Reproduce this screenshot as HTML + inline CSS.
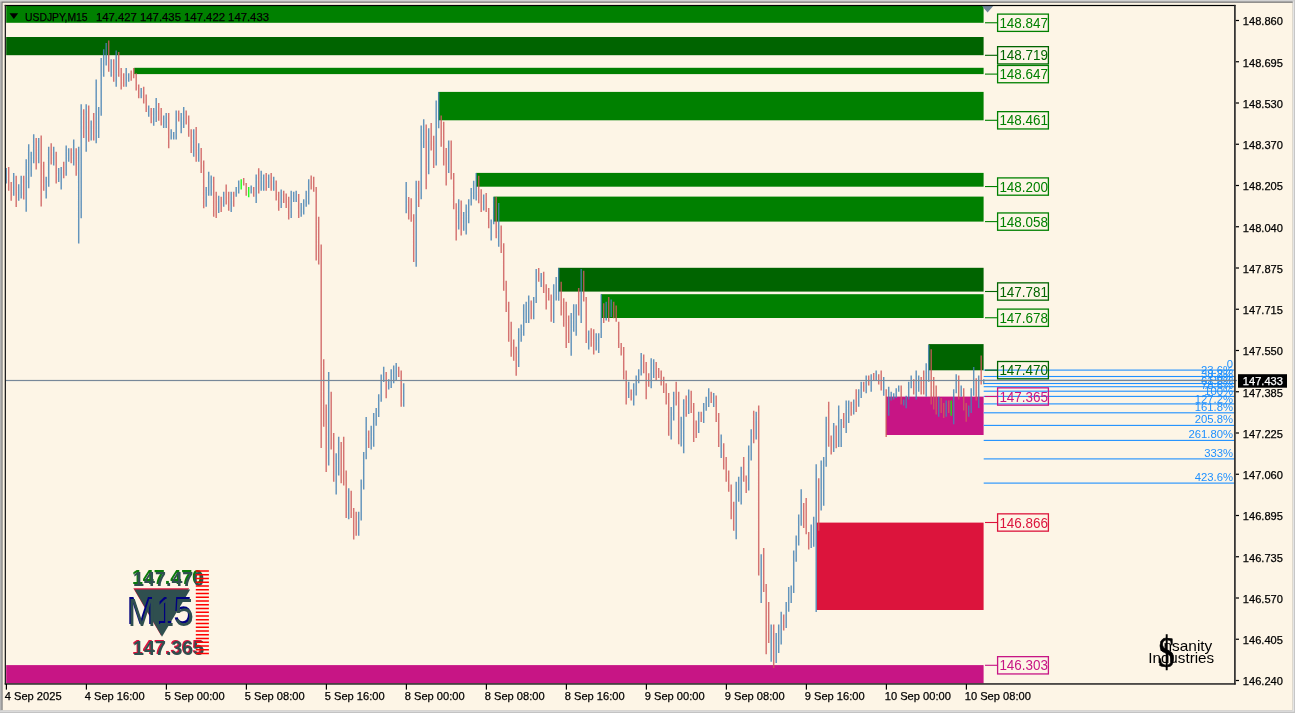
<!DOCTYPE html>
<html lang="en"><head><meta charset="utf-8"><title>USDJPY,M15</title>
<style>html,body{margin:0;padding:0;background:#FDF5E6;overflow:hidden}svg{display:block}text{font-family:"Liberation Sans",sans-serif}.ax{font-size:11.1px;fill:#000;stroke:#000;stroke-width:0.25px}.lb{font-size:14px}.fb{font-size:11.3px;fill:#1E90FF;text-anchor:end}.ser{font-family:"Liberation Serif",serif}.dj{font-family:"DejaVu Sans",sans-serif}</style></head><body>
<svg width="1295" height="713" viewBox="0 0 1295 713">
<rect x="0" y="0" width="1295" height="713" fill="#c3c3c3"/>
<rect x="0" y="0" width="1294.1" height="711.7" fill="#e4e4e4"/>
<rect x="0" y="0" width="1294.1" height="1.6" fill="#d2d2d2"/>
<rect x="0" y="1.5" width="1.4" height="709" fill="#b4b4b4"/>
<rect x="1.4" y="1.5" width="1291.3" height="708.7" fill="#777"/>
<rect x="2.6" y="2.8" width="1290.1" height="707.4" fill="#FDF5E6"/>
<rect x="6.2" y="6.0" width="977.4" height="16.8" fill="#008000"/>
<rect x="6.2" y="37.0" width="977.4" height="18.2" fill="#006400"/>
<rect x="134.2" y="67.8" width="849.4" height="6.3" fill="#008000"/>
<rect x="438.3" y="91.9" width="545.3" height="28.4" fill="#008000"/>
<rect x="476.0" y="172.9" width="507.6" height="13.8" fill="#008000"/>
<rect x="493.5" y="196.6" width="490.1" height="25.0" fill="#008000"/>
<rect x="558.1" y="267.8" width="425.5" height="23.8" fill="#006400"/>
<rect x="601.0" y="294.2" width="382.6" height="23.8" fill="#008000"/>
<rect x="928.5" y="344.1" width="55.1" height="26.2" fill="#006400"/>
<rect x="885.9" y="396.6" width="97.7" height="38.4" fill="#C71585"/>
<rect x="816.6" y="522.6" width="167.0" height="87.4" fill="#DC143C"/>
<rect x="6.2" y="665.1" width="977.4" height="18.2" fill="#C71585"/>
<path d="M982 6H993.2L987.6 12.4Z" fill="#6f8499"/>
<path d="M6.2 168.0V183.4M13.7 172.9V195.8M18.7 184.2V200.7M21.2 175.7V198.4M26.2 159.2V211.7M28.7 144.3V188.3M31.2 151.7V176.8M33.7 134.3V163.3M38.7 138.1V163.3M46.2 176.8V198.4M48.7 146.8V186.8M53.7 146.8V165.6M58.7 168.0V181.9M61.2 166.9V189.6M66.2 145.6V175.7M68.7 148.2V161.8M73.7 139.4V165.6M78.7 146.8V243.4M81.2 104.3V218.2M86.2 104.3V151.7M91.2 120.5V140.5M96.2 79.4V143.2M98.7 106.9V138.1M101.2 58.1V115.7M103.7 49.3V76.8M106.2 43.1V65.5M111.2 59.3V76.8M116.2 50.5V86.8M126.2 68.1V86.8M128.7 73.2V81.7M141.2 88.1V98.3M148.7 105.6V116.8M153.7 108.0V125.8M156.2 98.0V121.9M163.7 115.4V128.1M166.2 113.1V128.1M171.2 129.3V139.4M173.7 132.0V139.4M176.2 110.5V139.4M181.2 113.1V133.2M183.7 106.9V128.1M193.7 129.3V156.8M198.7 143.2V161.8M206.2 186.9V206.8M208.7 171.7V195.7M211.2 175.6V195.7M218.7 195.7V213.1M223.7 191.8V206.8M231.2 191.8V211.9M236.2 186.9V196.8M238.7 180.5V193.4M251.2 185.6V193.4M256.2 174.4V203.1M261.2 170.7V190.7M263.7 174.4V190.7M268.7 174.4V188.0M273.7 176.8V190.7M281.2 189.5V208.0M291.2 190.7V218.1M293.7 191.8V201.9M296.2 190.7V201.9M301.2 203.1V216.8M303.7 199.2V214.5M306.2 190.7V206.8M308.7 179.2V204.5M328.7 371.9V465.5M336.2 453.2V494.4M338.7 436.8V475.5M348.7 488.2V519.2M358.7 511.8V535.8M361.2 479.4V520.6M363.7 451.9V489.4M366.2 416.9V459.3M371.2 425.7V449.6M373.7 413.0V446.8M376.2 408.1V425.7M378.7 394.3V416.9M381.2 374.4V401.7M383.7 366.7V382.0M388.7 379.3V389.4M391.2 369.3V388.1M393.7 365.4V383.2M396.2 363.1V380.6M403.7 383.2V406.8M406.2 181.9V213.2M416.2 180.8V266.8M421.2 125.5V199.3M423.7 119.3V148.0M428.7 128.2V174.3M436.2 100.4V165.6M438.7 91.9V128.2M448.7 140.6V173.0M458.7 199.3V229.4M463.7 212.0V230.7M466.2 204.4V234.4M468.7 199.3V223.2M471.2 188.0V205.5M473.7 180.8V199.3M476.2 173.0V200.5M483.7 194.4V210.6M491.2 219.4V240.5M493.7 196.9V224.3M498.7 203.0V246.7M518.7 328.2V366.9M521.2 324.4V341.8M523.7 304.3V335.7M526.2 301.7V323.1M528.7 295.5V323.1M533.7 296.9V319.3M536.2 269.1V303.1M541.2 273.0V286.9M553.7 284.3V323.1M556.2 276.9V300.4M558.7 267.9V300.8M571.2 313.1V355.7M573.7 304.3V331.8M576.2 304.3V335.7M581.2 269.1V323.1M588.7 330.6V349.4M596.2 333.2V350.6M598.7 333.2V353.0M601.2 294.3V338.0M606.2 301.7V320.5M611.2 299.4V317.0M628.7 381.7V398.1M633.7 383.2V405.6M636.2 375.5V395.6M638.7 369.3V383.2M641.2 353.1V375.5M651.2 358.2V388.2M653.7 359.3V378.1M671.2 406.9V439.6M673.7 391.7V420.6M681.2 416.8V446.6M683.7 399.2V453.2M688.7 389.4V414.1M698.7 411.8V433.1M703.7 403.0V423.1M706.2 396.8V410.7M708.7 388.2V406.9M713.7 393.0V406.9M721.2 434.5V458.1M736.2 481.7V539.3M738.7 476.8V501.8M741.2 466.8V504.4M748.7 445.4V490.5M751.2 429.3V460.6M756.2 411.8V439.6M761.2 554.3V603.1M771.2 624.4V661.8M776.2 633.1V663.0M778.7 624.4V653.0M781.2 611.8V644.5M786.2 602.0V628.0M788.7 586.9V611.8M791.2 585.5V603.1M793.7 550.5V593.1M796.2 535.5V561.7M798.7 514.5V545.5M801.2 489.2V525.8M811.2 524.4V548.1M813.7 516.8V546.8M816.2 464.3V611.9M821.2 460.6V510.6M823.7 457.0V505.7M826.2 416.8V466.8M833.7 423.0V451.9M838.7 405.5V446.9M841.2 419.1V446.9M846.2 400.6V433.0M848.7 400.6V423.0M853.7 399.4V414.5M858.7 389.3V406.8M861.2 381.8V398.0M866.2 375.6V393.2M871.2 374.3V391.8M876.2 370.5V380.5M883.7 377.0V395.7M888.7 386.7V415.7M891.2 391.8V400.6M893.7 393.2V399.4M896.2 388.2V398.0M898.7 385.5V391.8M903.7 399.4V405.5M906.2 395.7V408.3M908.7 381.8V399.4M911.2 375.6V388.2M916.2 370.5V399.4M918.7 375.6V391.8M926.2 363.2V396.7M928.7 345.0V381.8M938.7 396.7V416.8M946.2 400.6V416.8M953.7 389.3V424.2M956.2 374.3V393.2M961.2 385.5V396.7M968.7 405.5V416.8M971.2 388.2V413.0M973.7 366.9V395.7M978.7 375.6V408.0M983.7 379.3V384.2" stroke="#4682B4" stroke-width="1.45" stroke-opacity="0.85" fill="none"/>
<path d="M8.7 166.9V190.7M11.2 181.9V200.7M16.2 175.7V206.9M23.7 175.7V199.6M36.2 138.1V169.5M41.2 135.5V206.6M43.7 161.8V190.7M51.2 143.2V164.4M56.2 151.7V183.4M63.7 161.8V178.3M71.2 148.2V163.3M76.2 148.2V175.7M83.7 109.3V138.1M88.7 105.6V141.7M93.7 113.1V140.5M108.7 40.5V71.7M113.7 59.3V81.7M118.7 51.9V76.8M121.2 68.1V89.5M123.7 73.2V86.8M131.2 70.5V80.7M133.7 68.1V78.2M136.2 73.2V90.5M138.7 84.4V98.3M143.7 86.8V103.4M146.2 94.4V111.9M151.2 108.0V123.2M158.7 102.9V120.7M161.2 108.0V125.5M168.7 113.1V148.2M178.7 110.5V121.6M186.2 110.5V124.4M188.7 115.4V136.8M191.2 129.3V153.0M196.2 127.0V161.8M201.2 148.1V173.0M203.7 160.5V208.3M213.7 176.8V216.8M216.2 191.8V218.1M221.2 196.8V211.9M226.2 184.4V204.5M228.7 191.8V210.7M233.7 191.8V206.8M243.7 178.1V185.6M246.2 183.0V195.7M253.7 186.9V196.8M258.7 168.2V193.4M266.2 173.0V190.7M271.2 173.0V190.7M276.2 180.5V200.6M278.7 191.8V210.7M283.7 190.7V203.1M286.2 193.4V208.0M288.7 196.8V219.6M298.7 194.1V218.1M311.2 175.6V189.5M313.7 176.8V191.8M316.2 186.9V260.6M318.7 216.8V264.5M321.2 244.4V448.1M323.7 359.3V426.8M326.2 404.4V472.0M331.2 391.7V449.6M333.7 433.1V481.7M341.2 441.9V483.2M343.7 436.8V485.6M346.2 470.6V518.0M351.2 490.7V518.0M353.7 508.0V539.6M356.2 511.8V535.8M368.7 430.6V448.1M386.2 371.9V398.2M398.7 366.7V377.0M401.2 370.5V406.8M408.7 197.0V219.4M411.2 198.2V221.7M413.7 214.3V261.9M418.7 180.8V207.0M426.2 124.4V189.3M431.2 123.1V150.6M433.7 135.7V168.1M441.2 115.6V146.8M443.7 121.8V165.6M446.2 148.0V185.6M451.2 140.6V179.5M453.7 173.0V209.3M456.2 203.2V240.5M461.2 200.5V235.6M478.7 175.7V203.2M481.2 189.3V212.0M486.2 193.1V212.0M488.7 208.1V228.2M496.2 196.9V238.2M501.2 225.6V253.1M503.7 243.2V290.8M506.2 280.7V312.0M508.7 301.7V341.8M511.2 321.8V356.8M513.7 339.4V360.7M516.2 346.8V375.7M531.2 300.4V319.3M538.7 267.9V281.8M543.7 271.8V293.1M546.2 284.3V309.4M548.7 288.1V300.4M551.2 294.6V321.8M561.2 281.8V315.6M563.7 298.2V326.7M566.2 301.7V348.0M568.7 315.6V343.1M578.7 288.1V315.6M583.7 270.7V301.6M586.2 296.9V343.1M591.2 328.2V346.8M593.7 329.3V354.5M603.7 303.2V323.1M608.7 296.9V321.8M613.7 301.7V318.2M616.2 305.5V321.8M618.7 321.8V348.0M621.2 343.1V355.4M623.7 346.9V379.4M626.2 370.6V404.4M631.2 389.4V400.5M643.7 354.4V373.2M646.2 361.9V399.2M648.7 373.2V386.8M656.2 361.9V380.5M658.7 368.1V378.1M661.2 370.6V385.6M663.7 376.8V393.0M666.2 383.2V404.4M668.7 393.0V435.8M676.2 381.7V405.6M678.7 391.7V444.2M686.2 395.6V416.8M691.2 390.7V412.9M693.7 403.0V441.9M696.2 420.6V438.1M701.2 411.8V421.9M711.2 391.7V403.0M716.2 395.6V421.9M718.7 412.9V446.9M723.7 443.2V469.4M726.2 457.0V481.7M728.7 470.5V491.8M731.2 484.4V519.3M733.7 501.8V530.7M743.7 457.0V481.7M746.2 475.6V493.0M753.7 410.7V443.2M758.7 405.6V575.6M763.7 548.1V591.9M766.2 584.1V654.2M768.7 601.9V643.0M773.7 624.4V668.1M783.7 614.4V630.6M803.7 502.9V528.1M806.2 498.0V534.2M808.7 531.9V549.4M818.7 478.2V530.7M828.7 401.8V446.7M831.2 435.6V454.4M836.2 425.6V448.2M843.7 413.0V428.1M851.2 401.8V415.7M856.2 389.3V411.9M863.7 381.8V391.8M868.7 375.6V385.5M873.7 373.1V380.5M878.7 374.3V384.4M881.2 370.5V390.6M886.2 389.3V436.9M901.2 385.5V404.5M913.7 379.3V394.4M921.2 377.0V394.4M923.7 370.5V394.4M931.2 349.3V404.5M933.7 377.0V409.4M936.2 385.5V414.5M941.2 398.0V413.0M943.7 403.1V417.9M948.7 400.6V413.0M958.7 375.6V399.4M963.7 388.2V410.6M966.2 403.1V421.8M976.2 378.2V400.6M981.2 355.5V384.4" stroke="#CD5C5C" stroke-width="1.45" stroke-opacity="0.85" fill="none"/>
<path d="M241.2 179.2V189.5M248.7 186.9V197.2M951.2 400.6V415.7" stroke="#00FF00" stroke-width="1.45" stroke-opacity="0.85" fill="none"/>
<rect x="983.7" y="369.55" width="250.5" height="1.1" fill="#1E90FF"/>
<rect x="983.7" y="375.95" width="250.5" height="1.1" fill="#1E90FF"/>
<rect x="983.7" y="379.75" width="250.5" height="1.1" fill="#1E90FF"/>
<rect x="983.7" y="382.95" width="250.5" height="1.1" fill="#1E90FF"/>
<rect x="983.7" y="386.15" width="250.5" height="1.1" fill="#1E90FF"/>
<rect x="983.7" y="390.65" width="250.5" height="1.1" fill="#1E90FF"/>
<rect x="983.7" y="395.85" width="250.5" height="1.1" fill="#1E90FF"/>
<rect x="983.7" y="403.35" width="250.5" height="1.1" fill="#1E90FF"/>
<rect x="983.7" y="412.25" width="250.5" height="1.1" fill="#1E90FF"/>
<rect x="983.7" y="424.85" width="250.5" height="1.1" fill="#1E90FF"/>
<rect x="983.7" y="439.85" width="250.5" height="1.1" fill="#1E90FF"/>
<rect x="983.7" y="458.35" width="250.5" height="1.1" fill="#1E90FF"/>
<rect x="983.7" y="482.55" width="250.5" height="1.1" fill="#1E90FF"/>
<text class="fb" x="1233.1" y="368.0">0</text>
<text class="fb" x="1233.1" y="374.3">23.6%</text>
<text class="fb" x="1233.1" y="378.2">38.2%</text>
<text class="fb" x="1233.1" y="381.4">50%</text>
<text class="fb" x="1233.1" y="384.5">61.8%</text>
<text class="fb" x="1233.1" y="389.0">78.6%</text>
<text class="fb" x="1233.1" y="394.7">100%</text>
<text class="fb" x="1233.1" y="403.2">127.2%</text>
<text class="fb" x="1233.1" y="411.2">161.8%</text>
<text class="fb" x="1233.1" y="422.9">205.8%</text>
<text class="fb" x="1233.1" y="437.9">261.80%</text>
<text class="fb" x="1233.1" y="456.9">333%</text>
<text class="fb" x="1233.1" y="481.1">423.6%</text>
<rect x="6" y="379.9" width="1231" height="1.2" fill="#778899"/>
<rect x="4.7" y="4.9" width="1230.7" height="1.2" fill="#000"/>
<rect x="4.7" y="4.9" width="1.3" height="679.5" fill="#222"/>
<rect x="1234.1" y="4.9" width="1.6" height="679.6" fill="#222"/>
<rect x="4.7" y="683.2" width="1231" height="1.5" fill="#222"/>
<rect x="985" y="22.20" width="12.5" height="1.1" fill="#008000"/>
<rect x="997.6" y="14.10" width="50.8" height="17.3" fill="none" stroke="#008000" stroke-width="1.3"/>
<text class="lb" x="999.4" y="27.75" fill="#008000" textLength="48.6" lengthAdjust="spacingAndGlyphs">148.847</text>
<rect x="985" y="54.75" width="12.5" height="1.1" fill="#006400"/>
<rect x="997.6" y="46.65" width="50.8" height="17.3" fill="none" stroke="#006400" stroke-width="1.3"/>
<text class="lb" x="999.4" y="60.30" fill="#006400" textLength="48.6" lengthAdjust="spacingAndGlyphs">148.719</text>
<rect x="985" y="73.55" width="12.5" height="1.1" fill="#008000"/>
<rect x="997.6" y="65.45" width="50.8" height="17.3" fill="none" stroke="#008000" stroke-width="1.3"/>
<text class="lb" x="999.4" y="79.10" fill="#008000" textLength="48.6" lengthAdjust="spacingAndGlyphs">148.647</text>
<rect x="985" y="119.75" width="12.5" height="1.1" fill="#008000"/>
<rect x="997.6" y="111.65" width="50.8" height="17.3" fill="none" stroke="#008000" stroke-width="1.3"/>
<text class="lb" x="999.4" y="125.30" fill="#008000" textLength="48.6" lengthAdjust="spacingAndGlyphs">148.461</text>
<rect x="985" y="186.00" width="12.5" height="1.1" fill="#008000"/>
<rect x="997.6" y="177.90" width="50.8" height="17.3" fill="none" stroke="#008000" stroke-width="1.3"/>
<text class="lb" x="999.4" y="191.55" fill="#008000" textLength="48.6" lengthAdjust="spacingAndGlyphs">148.200</text>
<rect x="985" y="221.05" width="12.5" height="1.1" fill="#008000"/>
<rect x="997.6" y="212.95" width="50.8" height="17.3" fill="none" stroke="#008000" stroke-width="1.3"/>
<text class="lb" x="999.4" y="226.60" fill="#008000" textLength="48.6" lengthAdjust="spacingAndGlyphs">148.058</text>
<rect x="985" y="290.95" width="12.5" height="1.1" fill="#006400"/>
<rect x="997.6" y="282.85" width="50.8" height="17.3" fill="none" stroke="#006400" stroke-width="1.3"/>
<text class="lb" x="999.4" y="296.50" fill="#006400" textLength="48.6" lengthAdjust="spacingAndGlyphs">147.781</text>
<rect x="985" y="317.20" width="12.5" height="1.1" fill="#008000"/>
<rect x="997.6" y="309.10" width="50.8" height="17.3" fill="none" stroke="#008000" stroke-width="1.3"/>
<text class="lb" x="999.4" y="322.75" fill="#008000" textLength="48.6" lengthAdjust="spacingAndGlyphs">147.678</text>
<rect x="985" y="369.60" width="12.5" height="1.1" fill="#006400"/>
<rect x="997.6" y="361.50" width="50.8" height="17.3" fill="none" stroke="#006400" stroke-width="1.3"/>
<text class="lb" x="999.4" y="375.15" fill="#006400" textLength="48.6" lengthAdjust="spacingAndGlyphs">147.470</text>
<rect x="985" y="395.95" width="12.5" height="1.1" fill="#C71585"/>
<rect x="997.6" y="387.85" width="50.8" height="17.3" fill="none" stroke="#C71585" stroke-width="1.3"/>
<text class="lb" x="999.4" y="401.50" fill="#C71585" textLength="48.6" lengthAdjust="spacingAndGlyphs">147.365</text>
<rect x="985" y="521.95" width="12.5" height="1.1" fill="#DC143C"/>
<rect x="997.6" y="513.85" width="50.8" height="17.3" fill="none" stroke="#DC143C" stroke-width="1.3"/>
<text class="lb" x="999.4" y="527.50" fill="#DC143C" textLength="48.6" lengthAdjust="spacingAndGlyphs">146.866</text>
<rect x="985" y="664.75" width="12.5" height="1.1" fill="#C71585"/>
<rect x="997.6" y="656.65" width="50.8" height="17.3" fill="none" stroke="#C71585" stroke-width="1.3"/>
<text class="lb" x="999.4" y="670.30" fill="#C71585" textLength="48.6" lengthAdjust="spacingAndGlyphs">146.303</text>
<rect x="1235.8" y="19.90" width="3.2" height="1.2" fill="#000"/>
<text class="ax" x="1242.8" y="25.40">148.860</text>
<rect x="1235.8" y="61.15" width="3.2" height="1.2" fill="#000"/>
<text class="ax" x="1242.8" y="66.65">148.695</text>
<rect x="1235.8" y="102.40" width="3.2" height="1.2" fill="#000"/>
<text class="ax" x="1242.8" y="107.90">148.530</text>
<rect x="1235.8" y="143.65" width="3.2" height="1.2" fill="#000"/>
<text class="ax" x="1242.8" y="149.15">148.370</text>
<rect x="1235.8" y="184.90" width="3.2" height="1.2" fill="#000"/>
<text class="ax" x="1242.8" y="190.40">148.205</text>
<rect x="1235.8" y="226.15" width="3.2" height="1.2" fill="#000"/>
<text class="ax" x="1242.8" y="231.65">148.040</text>
<rect x="1235.8" y="267.40" width="3.2" height="1.2" fill="#000"/>
<text class="ax" x="1242.8" y="272.90">147.875</text>
<rect x="1235.8" y="308.65" width="3.2" height="1.2" fill="#000"/>
<text class="ax" x="1242.8" y="314.15">147.715</text>
<rect x="1235.8" y="349.90" width="3.2" height="1.2" fill="#000"/>
<text class="ax" x="1242.8" y="355.40">147.550</text>
<rect x="1235.8" y="391.15" width="3.2" height="1.2" fill="#000"/>
<text class="ax" x="1242.8" y="396.65">147.385</text>
<rect x="1235.8" y="432.40" width="3.2" height="1.2" fill="#000"/>
<text class="ax" x="1242.8" y="437.90">147.225</text>
<rect x="1235.8" y="473.65" width="3.2" height="1.2" fill="#000"/>
<text class="ax" x="1242.8" y="479.15">147.060</text>
<rect x="1235.8" y="514.90" width="3.2" height="1.2" fill="#000"/>
<text class="ax" x="1242.8" y="520.40">146.895</text>
<rect x="1235.8" y="556.15" width="3.2" height="1.2" fill="#000"/>
<text class="ax" x="1242.8" y="561.65">146.735</text>
<rect x="1235.8" y="597.40" width="3.2" height="1.2" fill="#000"/>
<text class="ax" x="1242.8" y="602.90">146.570</text>
<rect x="1235.8" y="638.65" width="3.2" height="1.2" fill="#000"/>
<text class="ax" x="1242.8" y="644.15">146.405</text>
<rect x="1235.8" y="679.90" width="3.2" height="1.2" fill="#000"/>
<text class="ax" x="1242.8" y="685.40">146.240</text>
<rect x="1238" y="374.2" width="49" height="13.5" fill="#000"/>
<text class="ax" x="1242.8" y="385.1" style="fill:#fff;stroke:#fff">147.433</text>
<rect x="5.8" y="684" width="1.2" height="5.6" fill="#000"/>
<text class="ax" x="4.8" y="699.9">4 Sep 2025</text>
<rect x="85.8" y="684" width="1.2" height="5.6" fill="#000"/>
<text class="ax" x="84.8" y="699.9">4 Sep 16:00</text>
<rect x="165.8" y="684" width="1.2" height="5.6" fill="#000"/>
<text class="ax" x="164.8" y="699.9">5 Sep 00:00</text>
<rect x="245.8" y="684" width="1.2" height="5.6" fill="#000"/>
<text class="ax" x="244.8" y="699.9">5 Sep 08:00</text>
<rect x="325.8" y="684" width="1.2" height="5.6" fill="#000"/>
<text class="ax" x="324.8" y="699.9">5 Sep 16:00</text>
<rect x="405.8" y="684" width="1.2" height="5.6" fill="#000"/>
<text class="ax" x="404.8" y="699.9">8 Sep 00:00</text>
<rect x="485.8" y="684" width="1.2" height="5.6" fill="#000"/>
<text class="ax" x="484.8" y="699.9">8 Sep 08:00</text>
<rect x="565.8" y="684" width="1.2" height="5.6" fill="#000"/>
<text class="ax" x="564.8" y="699.9">8 Sep 16:00</text>
<rect x="645.8" y="684" width="1.2" height="5.6" fill="#000"/>
<text class="ax" x="644.8" y="699.9">9 Sep 00:00</text>
<rect x="725.8" y="684" width="1.2" height="5.6" fill="#000"/>
<text class="ax" x="724.8" y="699.9">9 Sep 08:00</text>
<rect x="805.8" y="684" width="1.2" height="5.6" fill="#000"/>
<text class="ax" x="804.8" y="699.9">9 Sep 16:00</text>
<rect x="885.8" y="684" width="1.2" height="5.6" fill="#000"/>
<text class="ax" x="884.8" y="699.9">10 Sep 00:00</text>
<rect x="965.8" y="684" width="1.2" height="5.6" fill="#000"/>
<text class="ax" x="964.8" y="699.9">10 Sep 08:00</text>
<path d="M9.5 13.2H18.2L13.85 18.9Z" fill="#000"/>
<text class="ax" x="25" y="20.5" textLength="62.6" lengthAdjust="spacingAndGlyphs">USDJPY,M15</text>
<text class="ax" x="96" y="20.5" textLength="173" lengthAdjust="spacingAndGlyphs">147.427 147.435 147.422 147.433</text>
<text x="131.9" y="584.3" font-size="19.7" font-weight="bold" fill="#0a7a0a">147.470</text>
<text x="133.1" y="585.5" font-size="19.7" font-weight="bold" fill="#2F4F4F">147.470</text>
<text x="131.9" y="654.1" font-size="19.7" font-weight="bold" fill="#DC143C">147.365</text>
<text x="133.1" y="655.3" font-size="19.7" font-weight="bold" fill="#2F4F4F">147.365</text>
<path d="M133.3 588.2H189.2L161 635.6Z" fill="#DC143C"/>
<path d="M134.5 589.4H190.2L162 636.8Z" fill="#2F4F4F"/>
<text transform="translate(126.5 624.4) scale(0.85 0.955)" font-size="40" fill="#000080">M</text>
<text transform="translate(156.8 624.4) scale(0.72 0.955)" font-size="40" fill="#000080">1</text>
<text transform="translate(173.3 624.4) scale(0.87 0.955)" font-size="40" fill="#000080">5</text>
<text transform="translate(127.7 625.6) scale(0.85 0.955)" font-size="40" fill="#2F4F4F">M</text>
<text transform="translate(158.0 625.6) scale(0.72 0.955)" font-size="40" fill="#2F4F4F">1</text>
<text transform="translate(174.5 625.6) scale(0.87 0.955)" font-size="40" fill="#2F4F4F">5</text>
<rect x="195.8" y="570.25" width="13.1" height="1.5" fill="#FF0000"/>
<rect x="195.8" y="574.00" width="13.1" height="1.5" fill="#FF0000"/>
<rect x="195.8" y="577.75" width="13.1" height="1.5" fill="#FF0000"/>
<rect x="195.8" y="581.50" width="13.1" height="1.5" fill="#FF0000"/>
<rect x="195.8" y="585.25" width="13.1" height="1.5" fill="#FF0000"/>
<rect x="195.8" y="589.00" width="13.1" height="1.5" fill="#FF0000"/>
<rect x="195.8" y="592.75" width="13.1" height="1.5" fill="#FF0000"/>
<rect x="195.8" y="596.50" width="13.1" height="1.5" fill="#FF0000"/>
<rect x="195.8" y="600.25" width="13.1" height="1.5" fill="#FF0000"/>
<rect x="195.8" y="604.00" width="13.1" height="1.5" fill="#FF0000"/>
<rect x="195.8" y="607.75" width="13.1" height="1.5" fill="#FF0000"/>
<rect x="195.8" y="611.50" width="13.1" height="1.5" fill="#FF0000"/>
<rect x="195.8" y="615.25" width="13.1" height="1.5" fill="#FF0000"/>
<rect x="195.8" y="619.00" width="13.1" height="1.5" fill="#FF0000"/>
<rect x="195.8" y="622.75" width="13.1" height="1.5" fill="#FF0000"/>
<rect x="195.8" y="626.50" width="13.1" height="1.5" fill="#FF0000"/>
<rect x="195.8" y="630.25" width="13.1" height="1.5" fill="#FF0000"/>
<rect x="195.8" y="634.00" width="13.1" height="1.5" fill="#FF0000"/>
<rect x="195.8" y="637.75" width="13.1" height="1.5" fill="#FF0000"/>
<rect x="195.8" y="641.50" width="13.1" height="1.5" fill="#FF0000"/>
<rect x="195.8" y="645.25" width="13.1" height="1.5" fill="#FF0000"/>
<rect x="195.8" y="649.00" width="13.1" height="1.5" fill="#FF0000"/>
<rect x="195.8" y="652.75" width="13.1" height="1.5" fill="#FF0000"/>
<text x="1159.3" y="650.9" font-size="15" fill="#000" textLength="53" lengthAdjust="spacingAndGlyphs">Insanity</text>
<text x="1148.2" y="663.4" font-size="15" fill="#000" textLength="66" lengthAdjust="spacingAndGlyphs">Industries</text>
<text class="ser" transform="translate(1158.3 667.4) scale(0.75 1)" x="0" y="0" font-size="44" fill="#000" stroke="#000" stroke-width="0.7">$</text>
</svg></body></html>
